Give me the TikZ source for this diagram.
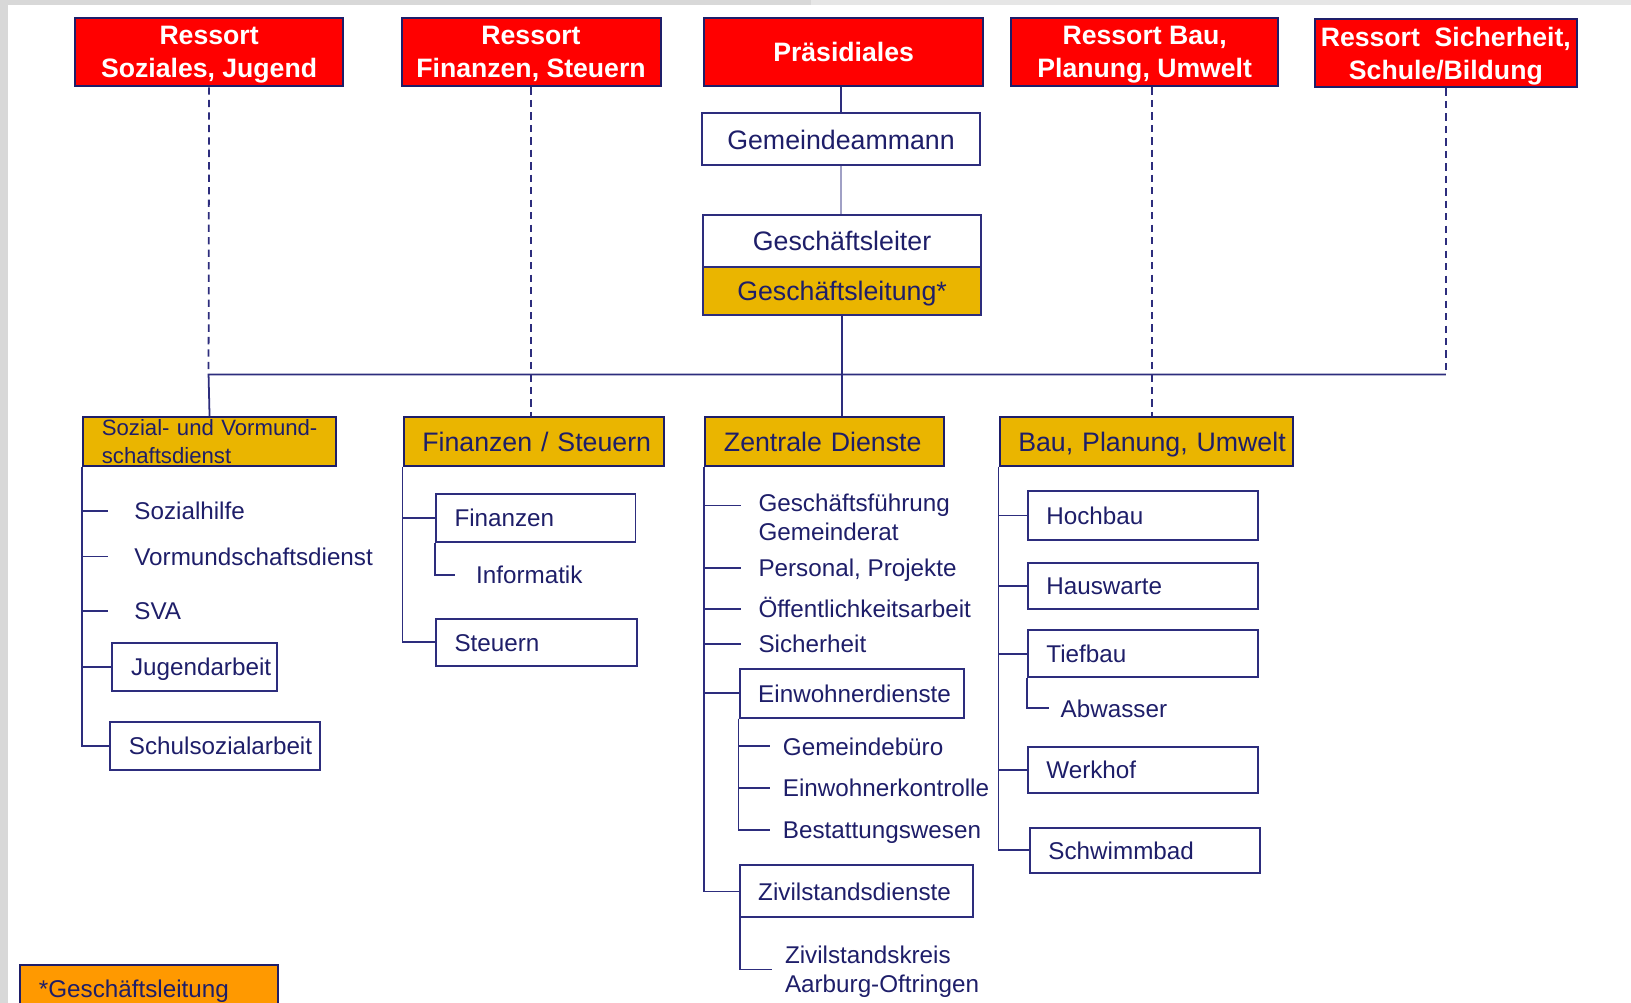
\documentclass[tikz,border=0pt]{standalone}
\usepackage{fontspec}
\setmainfont{Liberation Sans}
\definecolor{navy}{RGB}{30,30,105}
\definecolor{linie}{RGB}{45,45,125}
\definecolor{rot}{RGB}{255,0,0}
\definecolor{gold}{RGB}{234,181,0}
\definecolor{legendorange}{RGB}{255,153,0}
\definecolor{bandgray}{RGB}{216,216,216}
\definecolor{bandlight}{RGB}{230,230,230}
\newcommand\ressortfont{\fontsize{25.6}{32}\selectfont\bfseries}
\newcommand\unitfont{\fontsize{25.7}{30}\selectfont}
\newcommand\itemfont{\fontsize{23.3}{28}\selectfont}
\newcommand\smallunitfont{\fontsize{21.3}{26}\selectfont}
\begin{document}
\begin{tikzpicture}[x=1pt, y=-1pt,
    ressort/.style={draw=navy, line width=1.9pt, fill=rot, text=white, font=\ressortfont,
      align=center, inner sep=0pt, minimum height=66pt, text depth=0pt},
    unitbox/.style={draw=linie, line width=1.9pt, fill=white, text=navy, font=\unitfont,
      inner sep=0pt, text height=18.5pt, text depth=0pt},
    deptbox/.style={draw=navy, line width=1.9pt, fill=gold, text=navy, font=\unitfont,
      anchor=west, inner xsep=18pt, inner ysep=0pt, align=left, minimum height=47pt},
    flat/.style={text height=18.5pt, text depth=0pt},
    subbox/.style={draw=linie, line width=1.9pt, fill=white, text=navy, font=\itemfont,
      anchor=west, inner xsep=18pt, inner ysep=0pt, align=left, minimum height=46pt,
      text height=16.8pt, text depth=0pt},
    entry/.style={text=navy, font=\itemfont, anchor=west, inner sep=0pt,
      text height=16.8pt, text depth=0pt},
    entrytwo/.style={text=navy, font=\itemfont, anchor=west, inner sep=0pt, align=left,
      text depth=0pt},
    link/.style={draw=linie, line width=1.7pt},
    dashlink/.style={link, dash pattern=on 7pt off 5pt}]

  \clip (0,0) rectangle (1568,964);
  \fill[bandgray] (0,0) rectangle (780,5);
  \fill[bandlight] (780,0) rectangle (1568,5);
  \fill[bandgray] (0,0) rectangle (8,964);

  % Ressorts
  \node[ressort, minimum width=258pt] (rsoz) at (201,50) {Ressort\\Soziales, Jugend};
  \node[ressort, minimum width=249pt] (rfin) at (510.5,50) {Ressort\\Finanzen, Steuern};
  \node[ressort, minimum width=268pt, text height=18.3pt] (rpraes) at (811,50) {Präsidiales};
  \node[ressort, minimum width=257pt] (rbau) at (1100.5,50) {Ressort Bau,\\Planung, Umwelt};
  \node[ressort, minimum width=252pt] (rsich) at (1390,51) {Ressort\ \ Sicherheit,\\Schule/Bildung};

  \node[unitbox, minimum width=267pt, minimum height=50pt] (gamm) at (808.5,134) {Gemeindeammann};
  \node[unitbox, minimum width=267pt, minimum height=50pt] (gleiter) at (809.5,232) {Geschäftsleiter};
  \node[unitbox, fill=gold, minimum width=267pt, minimum height=46pt] (gleitung) at (809.5,280) {Geschäftsleitung*};

  % Abteilungen
  \node[deptbox, font=\smallunitfont, text width=207pt] (sozdep) at (79,424.5) {\mbox{Sozial- und Vormund-}\\\mbox{schaftsdienst}};
  \node[deptbox, flat, text width=214pt] (findep) at (387,424.5) {\mbox{Finanzen / Steuern}};
  \node[deptbox, flat, text width=194pt] (zdep) at (677,424.5) {\mbox{Zentrale Dienste}};
  \node[deptbox, flat, text width=246pt] (baudep) at (960,424.5) {\mbox{Bau, Planung, Umwelt}};

  \coordinate (busL) at (200.5,360);
  \coordinate (busR) at (1390,360);
  \draw[dashlink] (rsoz.south) -- (busL);
  \draw[dashlink] (rsich.south) -- (busR);
  \draw[link] (sozdep.north) -- (busL) -- (busR);
  \draw[dashlink] (rfin.south) -- (rfin.south |- findep.north);
  \draw[dashlink] ([xshift=7pt]rbau.south) -- ([xshift=7pt]rbau.south |- baudep.north);
  \draw[link] (gamm.north |- rpraes.south) -- (gamm.north);
  \draw[link, draw=linie!45] (gamm.south) -- (gamm.south |- gleiter.north);
  \draw[link] (gleitung.south) -- (gleitung.south |- zdep.north);

  % Sozial- und Vormundschaftsdienst
  \node[entry] (hilfe) at (129,491) {Sozialhilfe};
  \node[entry] (vormund) at (129,535) {Vormundschaftsdienst};
  \node[entry] (sva) at (129,587.5) {SVA};
  \node[subbox, text width=122pt] (jugend) at (107,641) {Jugendarbeit};
  \node[subbox, text width=166pt] (schul) at (105,717) {Schulsozialarbeit};
  \draw[link] (sozdep.south west) |- ([xshift=-25.5pt]hilfe.west);
  \draw[link] (sozdep.south west) |- ([xshift=-25.5pt]vormund.west);
  \draw[link] (sozdep.south west) |- ([xshift=-25.5pt]sva.west);
  \draw[link] (sozdep.south west) |- (jugend.west);
  \draw[link] (sozdep.south west) |- (schul.west);

  % Finanzen / Steuern
  \node[subbox, text width=156pt] (finbox) at (418,498) {Finanzen};
  \node[entry] (informatik) at (457.5,553) {Informatik};
  \node[subbox, text width=157pt, minimum height=45pt] (steuerbox) at (418,617.5) {Steuern};
  \draw[link] (findep.south west) |- (finbox.west);
  \draw[link] (findep.south west) |- (steuerbox.west);
  \draw[link] (finbox.south west) |- ([xshift=-20pt]informatik.west);

  % Zentrale Dienste
  \node[entrytwo] (gf) at (729,497) {Geschäftsführung\\Gemeinderat};
  \node[entry] (personal) at (729,546) {Personal, Projekte};
  \node[entry] (oeff) at (729,585.5) {Öffentlichkeitsarbeit};
  \node[entry] (sicher) at (729,619) {Sicherheit};
  \node[subbox, text width=180pt, minimum height=47pt] (einw) at (710,666.5) {Einwohnerdienste};
  \node[entry] (gbuero) at (752.5,717.5) {Gemeindebüro};
  \node[entry] (ekontrolle) at (752.5,757.5) {Einwohnerkontrolle};
  \node[entry] (bestatt) at (752.5,798) {Bestattungswesen};
  \node[subbox, text width=188pt, minimum height=50pt] (zivil) at (710,857) {Zivilstandsdienste};
  \node[entrytwo] (zkreis) at (754.5,932) {Zivilstandskreis\\Aarburg-Oftringen};
  \draw[link] (zdep.south west) |- ([xshift=-17pt, yshift=11pt]gf.west);
  \draw[link] (zdep.south west) |- ([xshift=-17pt]personal.west);
  \draw[link] (zdep.south west) |- ([xshift=-17pt]oeff.west);
  \draw[link] (zdep.south west) |- ([xshift=-17pt]sicher.west);
  \draw[link] (zdep.south west) |- (einw.west);
  \draw[link] (zdep.south west) |- (zivil.west);
  \draw[link] (einw.south west) |- ([xshift=-12.3pt]gbuero.west);
  \draw[link] (einw.south west) |- ([xshift=-12.3pt]ekontrolle.west);
  \draw[link] (einw.south west) |- ([xshift=-12.3pt]bestatt.west);
  \draw[link] ([xshift=1.5pt]zivil.south west) |- ([xshift=-12.6pt]zkreis.west);

  % Bau, Planung, Umwelt
  \node[subbox, text width=185pt, minimum height=47pt] (hoch) at (987,495.5) {Hochbau};
  \node[subbox, text width=185pt, minimum height=44pt] (haus) at (987,563) {Hauswarte};
  \node[subbox, text width=185pt, minimum height=45pt] (tief) at (987,628.5) {Tiefbau};
  \node[entry] (abwasser) at (1019.5,681) {Abwasser};
  \node[subbox, text width=185pt, minimum height=44pt] (werk) at (987,740) {Werkhof};
  \node[subbox, text width=185pt, minimum height=43pt] (schwimm) at (989,817.5) {Schwimmbad};
  \draw[link] (baudep.south west) |- (hoch.west);
  \draw[link] (baudep.south west) |- (haus.west);
  \draw[link] (baudep.south west) |- (tief.west);
  \draw[link] (baudep.south west) |- (werk.west);
  \draw[link] (baudep.south west) |- (schwimm.west);
  \draw[link] (tief.south west) |- ([xshift=-11pt]abwasser.west);

  % Legende
  \node[subbox, draw=navy, fill=legendorange, text width=211.5pt] (legende) at (18.5,951) {*Geschäftsleitung};
\end{tikzpicture}
\end{document}
